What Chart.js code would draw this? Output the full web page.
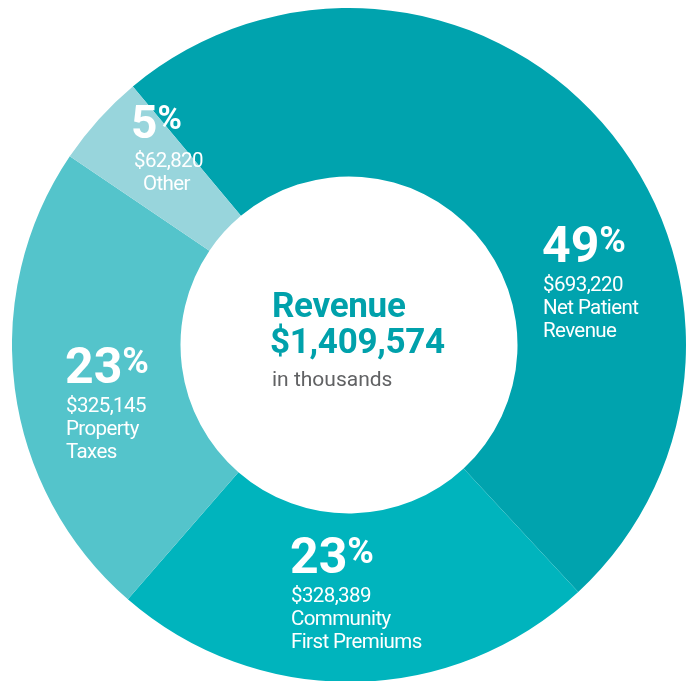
<!DOCTYPE html>
<html>
<head>
<meta charset="utf-8">
<script src="https://cdn.jsdelivr.net/npm/chart.js@4"></script>
<style>
    html, body { margin: 0; padding: 0; background: #fff; overflow: hidden; }
    #wrap { position: absolute; left: 12px; top: 8px; width: 674px; height: 674px; }
</style>
</head>
<body>
<div id="wrap"><canvas id="revenueChart"></canvas></div>
<script>
const labels = ["Net Patient Revenue", "Community First Premiums", "Property Taxes", "Other"];
const revenue = [693220, 328389, 325145, 62820];
const percentLabels = ["49%", "23%", "23%", "5%"];
const amountLabels = ["$693,220", "$328,389", "$325,145", "$62,820"];
const nameLines = [["Net Patient", "Revenue"], ["Community", "First Premiums"], ["Property", "Taxes"], ["Other"]];
const totalTitle = "Revenue";
const totalLabel = "$1,409,574";
const totalNote = "in thousands";

const colors = ["#00a3ae", "#00b4bd", "#54c4cb", "#98d5dc"];

// where each slice's text block sits, relative to the doughnut centre
const labelSpots = [
    { dx: 193, dy: -83, size: 50, indent: [0, 0, 0] },
    { dx: -59, dy: 228, size: 50, indent: [0, 0, 0] },
    { dx: -284, dy: 38, size: 50, indent: [0, 0, 0] },
    { dx: -218, dy: -207, size: 46, indent: [2, 11] },
];
const lineSteps = [29, 52, 75];

const sliceText = {
    id: "sliceText",
    afterDraw(chart) {
        const ctx = chart.ctx;
        const arc = chart.getDatasetMeta(0).data[0];
        const cx = arc.x, cy = arc.y;
        ctx.save();
        ctx.textBaseline = "alphabetic";
        ctx.textAlign = "left";
        ctx.fillStyle = "#fff";
        labelSpots.forEach((s, i) => {
            const x = cx + s.dx, y = cy + s.dy;
            const num = percentLabels[i].replace("%", "");
            ctx.letterSpacing = "0px";
            ctx.font = `bold ${s.size}px Roboto`;
            ctx.fillText(num, x, y);
            const w = ctx.measureText(num).width;
            const capH = s.size * 0.71;
            const pSize = Math.round(s.size * 0.72);
            ctx.font = `bold ${pSize}px Roboto`;
            ctx.fillText("%", x + w, y - capH + pSize * 0.71);
            ctx.font = "20.5px Roboto";
            ctx.letterSpacing = "-0.6px";
            const lines = [amountLabels[i]].concat(nameLines[i]);
            lines.forEach((t, j) => {
                ctx.fillText(t, x + 1 + (s.indent[j] || 0), y + lineSteps[j]);
            });
        });

        ctx.letterSpacing = "-0.3px";
        ctx.fillStyle = "#00a1ab";
        ctx.font = "bold 35px Roboto";
        ctx.fillText(totalTitle, cx - 77, cy - 28);
        ctx.fillText(totalLabel, cx - 79, cy + 8);
        ctx.fillStyle = "#616264";
        ctx.font = "21px Roboto";
        ctx.letterSpacing = "0px";
        ctx.fillText(totalNote, cx - 77, cy + 41);
        ctx.restore();
    },
};

function renderChart() {
    const ctx = document.getElementById("revenueChart").getContext("2d");
    new Chart(ctx, {
        type: "doughnut",
        data: {
            labels: labels,
            datasets: [
                {
                    data: revenue,
                    backgroundColor: colors,
                    borderWidth: 0,
                },
            ],
        },
        options: {
            responsive: true,
            maintainAspectRatio: false,
            animation: false,
            cutout: "50%",
            rotation: -39.9,
            layout: { padding: 0 },
            plugins: {
                legend: { display: false },
                tooltip: { enabled: false },
            },
        },
        plugins: [sliceText],
    });
}

Promise.all([
    document.fonts.load("bold 35px Roboto"),
    document.fonts.load("20px Roboto"),
]).then(renderChart, renderChart);
</script>
</body>
</html>
